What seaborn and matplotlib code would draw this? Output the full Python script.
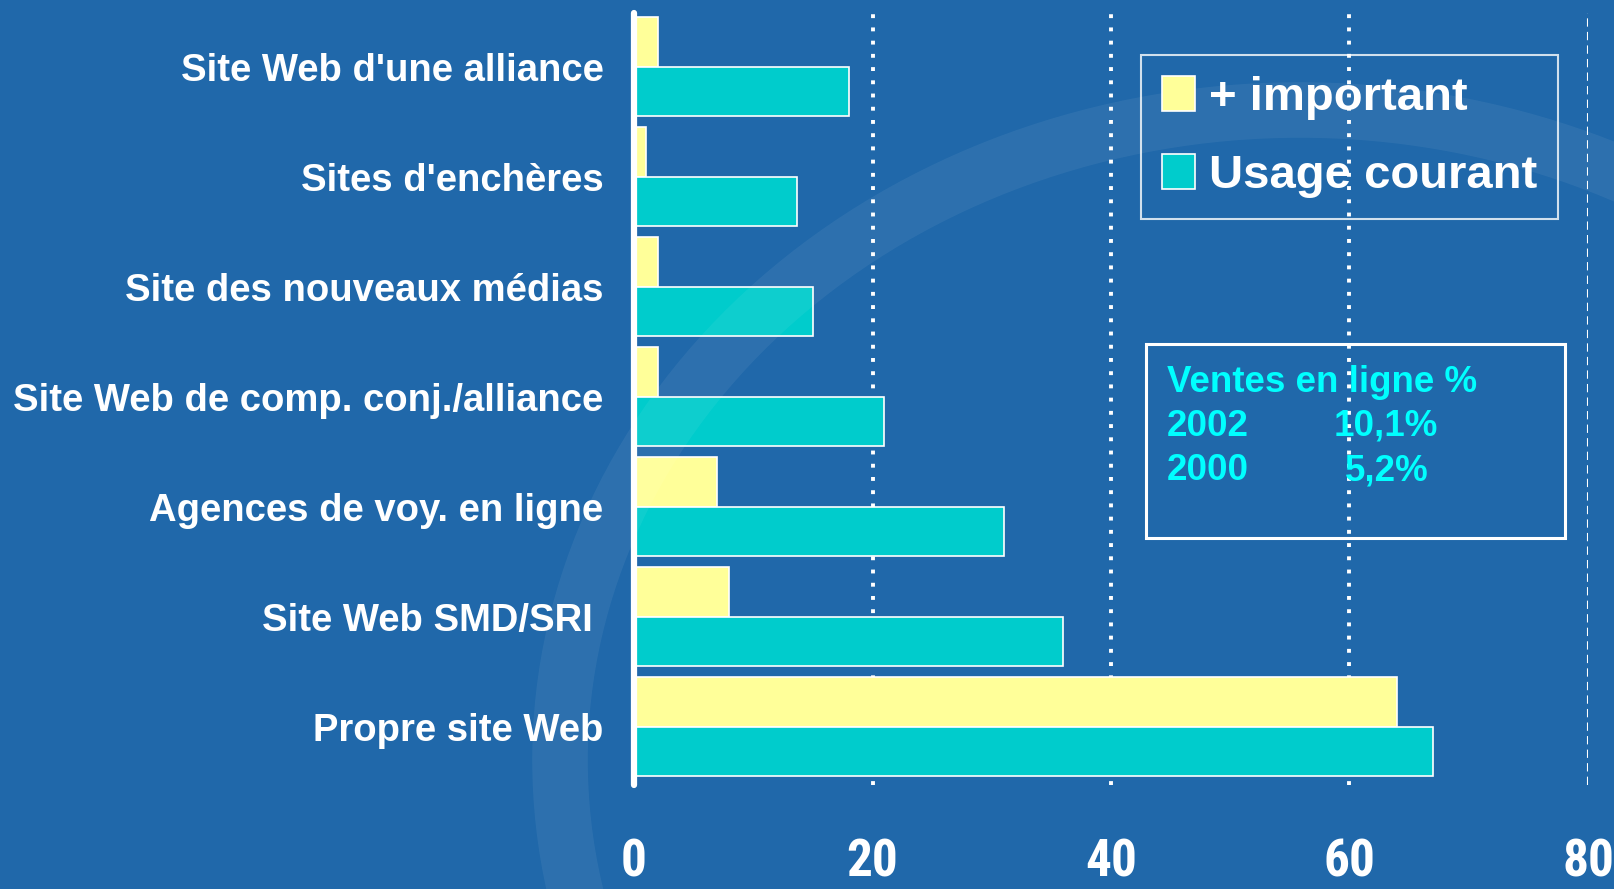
import numpy as np
import pandas as pd
import matplotlib
matplotlib.use("Agg")
import matplotlib.pyplot as plt
from matplotlib.patches import Rectangle, Ellipse, Patch
import seaborn as sns

# --- données ---
categories = [
    "Site Web d'une alliance",
    "Sites d'enchères",
    "Site des nouveaux médias",
    "Site Web de comp. conj./alliance",
    "Agences de voy. en ligne",
    "Site Web SMD/SRI ",
    "Propre site Web",
]
series = ["+ important", "Usage courant"]
plus_important = [2, 1, 2, 2, 7, 8, 64]
usage_courant = [18, 13.7, 15, 21, 31, 36, 67]
x_ticks = [0, 20, 40, 60, 80]

encadre_titre = "Ventes en ligne %"
encadre_annees = ["2002", "2000"]
encadre_valeurs = ["10,1%", "5,2%"]

bg = "#2068AA"
jaune = "#FFFF99"
turquoise = "#00CCCC"
cyan = "#00FFFF"

df = pd.DataFrame({
    "categorie": categories * 2,
    "serie": [series[0]] * len(categories) + [series[1]] * len(categories),
    "valeur": plus_important + usage_courant,
})

sns.set_theme(style="white")
plt.rcParams["font.family"] = ["Liberation Sans", "DejaVu Sans"]

fig = plt.figure(figsize=(16.15, 8.89), dpi=100, facecolor=bg)
W, H = 1615, 889

# anneau décoratif du fond de diapo
ring = Ellipse((1300 / W, 1 - 760 / H), 1480 / W, 1300 / H, transform=fig.transFigure,
               fill=False, edgecolor="white", linewidth=40, alpha=0.06, zorder=0)
fig.patches.append(ring)

ax = fig.add_axes([634 / W, 1 - 785 / H, (1588 - 634) / W, (785 - 13) / H])
ax.set_facecolor("none")

sns.barplot(data=df, y="categorie", x="valeur", hue="serie", orient="h",
            palette=[jaune, turquoise], width=0.9, edgecolor="white",
            linewidth=1.2, saturation=1, legend=False, ax=ax, zorder=3)

ax.set_xlim(0, 80)
ax.set_ylim(6.53, -0.49)
ax.set_xticks(x_ticks)
ax.set_xticklabels([str(t) for t in x_ticks])
ax.set_xlabel("")
ax.set_ylabel("")

# grille pointillée (la dernière en tirets)
for t in x_ticks[1:-1]:
    ax.axvline(t, color="white", linestyle=(0, (1, 2.4)), linewidth=2.8, zorder=1)
ax.axvline(x_ticks[-1], color="white", linestyle=(0, (4, 2.5)), linewidth=1.5, zorder=1)

for s in ["top", "right", "bottom"]:
    ax.spines[s].set_visible(False)
ax.spines["left"].set_color("white")
ax.spines["left"].set_linewidth(4.5)
ax.spines["left"].set_capstyle("round")
ax.spines["left"].set_zorder(5)

ax.tick_params(axis="y", length=0, pad=22)
ax.tick_params(axis="x", length=0, pad=38)
for lab in ax.get_yticklabels():
    lab.set_color("white")
    lab.set_fontweight("bold")
    lab.set_fontsize(27.5)
for lab in ax.get_xticklabels():
    lab.set_color("white")
    lab.set_fontweight("bold")
    lab.set_fontsize(37)
    lab.set_family(["Roboto Condensed", "Liberation Sans"])

handles = [Patch(facecolor=jaune, edgecolor="white", linewidth=1.2),
           Patch(facecolor=turquoise, edgecolor="white", linewidth=1.2)]
leg = fig.legend(handles, series, loc="upper right",
                 bbox_to_anchor=(1558 / W, 1 - 55 / H), bbox_transform=fig.transFigure,
                 frameon=True, fancybox=False, fontsize=34, borderaxespad=0,
                 handlelength=0.7, handleheight=0.75, handletextpad=0.3,
                 labelspacing=0.73, borderpad=0.44)
leg.get_frame().set_facecolor("none")
leg.get_frame().set_edgecolor("white")
leg.get_frame().set_linewidth(1.5)
for t in leg.get_texts():
    t.set_color("white")
    t.set_fontweight("bold")

# encadré "Ventes en ligne"
fig.patches.append(Rectangle((1146 / W, 1 - 538 / H), (1565 - 1146) / W, (538 - 344) / H,
                             transform=fig.transFigure, fill=False,
                             edgecolor="white", linewidth=2.2, zorder=4))
fig.text(1167 / W, 1 - 392 / H, encadre_titre, color=cyan, fontsize=26.5,
         fontweight="bold", va="baseline", ha="left")
for i, (an, val) in enumerate(zip(encadre_annees, encadre_valeurs)):
    yb = 1 - (436 + 44.5 * i) / H
    fig.text(1167 / W, yb, an, color=cyan, fontsize=26.5, fontweight="bold",
             va="baseline", ha="left")
    fig.text(1438 / W - 0.006 * i, yb, val, color=cyan, fontsize=26.5, fontweight="bold",
             va="baseline", ha="right")

fig.savefig("out.png", dpi=100, facecolor=bg)
